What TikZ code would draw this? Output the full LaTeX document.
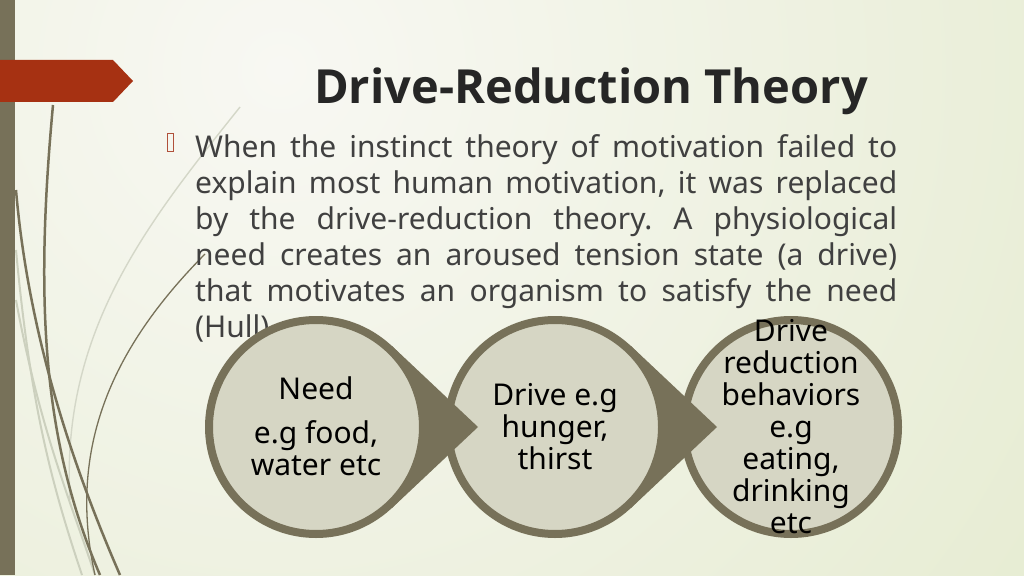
\documentclass[tikz,border=0pt]{standalone}
\usepackage{fontspec}
\setmainfont{Noto Sans}
\newfontfamily\titlefont{Open Sans}
\usetikzlibrary{calc}
\frenchspacing
\definecolor{barcol}{RGB}{119,113,89}
\definecolor{circfill}{RGB}{214,214,196}
\definecolor{redcol}{RGB}{166,49,18}
\definecolor{bulletcol}{RGB}{176,80,58}
\definecolor{titlecol}{RGB}{38,38,38}
\definecolor{bodycol}{RGB}{64,64,64}
\definecolor{bgA}{RGB}{248,248,243}
\definecolor{bgB}{RGB}{214,225,180}
\definecolor{lightcurvecol}{RGB}{204,208,190}
\definecolor{faintcurvecol}{RGB}{212,215,200}
\begin{document}
\begin{tikzpicture}[x=1pt,y=-1pt,
  circ/.style={circle, draw=barcol, line width=8pt, fill=circfill, minimum size=214pt, inner sep=0pt},
  wedge/.style={fill=barcol},
  ctext/.style={align=center, text=black, inner sep=0pt, font=\fontsize{30}{32}\selectfont},
  body/.style={anchor=base west, inner sep=0pt, text=bodycol, font=\fontsize{30}{36}\selectfont},
  darkcurve/.style={draw=barcol, line width=2.5pt},
  thincurve/.style={draw=barcol, line width=1.3pt},
  lightcurve/.style={draw=lightcurvecol, line width=2pt},
  faintcurve/.style={draw=faintcurvecol, line width=1.4pt}]
\useasboundingbox (0,0) rectangle (1024,575);
% background
\begin{scope}
\clip (0,0) rectangle (1024,575);
\shade[inner color=bgA, outer color=bgB] (280,70) circle (1800);
\end{scope}
% decorative curves
\draw[faintcurve] (240,107) .. controls (150,220) and (60,330) .. (70,500);
\draw[lightcurve] (16,250) .. controls (30,400) and (50,480) .. (82,575);
\draw[lightcurve] (16,300) .. controls (40,430) and (70,500) .. (95,575);
\draw[darkcurve] (16,190) .. controls (28,330) and (70,460) .. (120,575);
\draw[darkcurve] (53,105) .. controls (35,300) and (42,440) .. (100,575);
\draw[thincurve] (205,254) .. controls (120,340) and (65,440) .. (95,575);
% left bar and banner
\fill[barcol] (0,0) rectangle (15,575);
\fill[redcol] (0,60) -- (113,60) -- (133,81) -- (113,102) -- (0,102) -- cycle;
% bullet
\draw[bulletcol, line width=1pt] (167.5,133.5) rectangle (173.5,151.5);
% title
\node[font=\titlefont\fontsize{47}{58}\selectfont\bfseries, text=titlecol, anchor=base, inner sep=0pt] (title) at (591,104) {Drive-Reduction Theory};
% body text
\node[body] (l1) at (195,157) {\makebox[702pt][s]{When the instinct theory of motivation failed to}};
\node[body] (l2) at (195,193) {\makebox[702pt][s]{explain most human motivation, it was replaced}};
\node[body] (l3) at (195,229) {\makebox[702pt][s]{by the drive-reduction theory. A physiological}};
\node[body] (l4) at (195,265) {\makebox[702pt][s]{need creates an aroused tension state (a drive)}};
\node[body] (l5) at (195,301) {\makebox[702pt][s]{that motivates an organism to satisfy the need}};
\node[body] (l6) at (195,337) {(Hull)};
% circles and pointers
\coordinate (p1) at (316,427);
\coordinate (p2) at (555,427);
\coordinate (p3) at (791,427);
\coordinate (tip1) at (478,427);
\coordinate (tip2) at (717,427);
\node[circ] (c3) at (p3) {};
\fill[wedge] ($(p2)+(76,-81)$) -- (tip2) -- ($(p2)+(76,81)$) -- cycle;
\node[circ] (c2) at (p2) {};
\fill[wedge] ($(p1)+(76,-81)$) -- (tip1) -- ($(p1)+(76,81)$) -- cycle;
\node[circ] (c1) at (p1) {};
% circle texts
\node[ctext] (t1) at (316,426) {Need\\[12pt]e.g food,\\water etc};
\node[ctext] (t2) at (555,427) {Drive e.g\\hunger,\\thirst};
\node[ctext] (t3) at (791,427) {Drive\\reduction\\behaviors\\e.g\\eating,\\drinking\\etc};
\end{tikzpicture}
\end{document}
